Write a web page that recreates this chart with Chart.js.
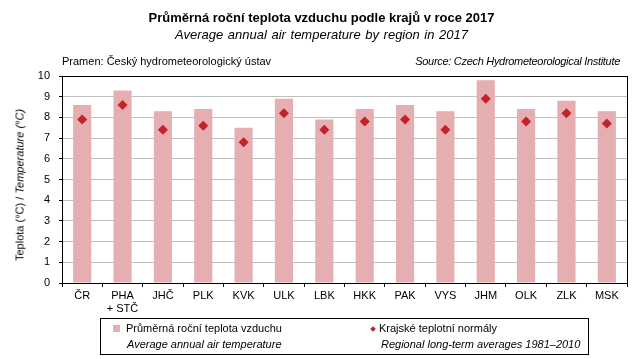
<!DOCTYPE html>
<html>
<head>
<meta charset="utf-8">
<script src="https://cdn.jsdelivr.net/npm/chart.js@4/dist/chart.umd.min.js"></script>
<style>
  html, body { margin: 0; padding: 0; background: #fff; }
  #wrap { position: relative; width: 643px; height: 359px; font-family: Arial, "Liberation Sans", sans-serif; color: #000; }
  #wrap canvas { position: absolute; left: 0; top: 0; }
  .t { position: absolute; white-space: nowrap; line-height: 1; }
  .title { left: 0; width: 643px; text-align: center; top: 11px; font-size: 13px; font-weight: bold; }
  .sub { left: 0; width: 643px; text-align: center; top: 28px; font-size: 13px; font-style: italic; word-spacing: 1px; }
  .src { top: 56px; font-size: 11px; }
  .ytitle { left: 20px; top: 185px; font-size: 11px; transform: translate(-50%, -50%) rotate(-90deg); }
  #legend { position: absolute; left: 100px; top: 318px; width: 487px; height: 35px; border: 1px solid #000; font-size: 11px; }
  .sw { position: absolute; width: 7px; height: 7px; background: #E5AEB1; }
  .dm { position: absolute; width: 4px; height: 4px; background: #C4212B; transform: rotate(45deg); }
</style>
</head>
<body>
<div id="wrap">
  <canvas id="c" width="643" height="359"></canvas>
  <div class="t title">Průměrná roční teplota vzduchu podle krajů v roce 2017</div>
  <div class="t sub">Average annual air temperature by region in 2017</div>
  <div class="t src" style="left:62px">Pramen: Český hydrometeorologický ústav</div>
  <div class="t src" style="right:23px;font-style:italic;letter-spacing:-0.3px">Source: Czech Hydrometeorological Institute</div>
  <div class="t ytitle">Teplota (°C) / <i>Temperature (°C)</i></div>
  <div id="legend">
    <div class="sw" style="left:12px;top:6px"></div>
    <div class="t" style="left:25px;top:4px">Průměrná roční teplota vzduchu</div>
    <div class="t" style="left:26px;top:20px;font-style:italic">Average annual air temperature</div>
    <div class="dm" style="left:270px;top:8px"></div>
    <div class="t" style="left:278px;top:4px">Krajské teplotní normály</div>
    <div class="t" style="left:280px;top:20px;font-style:italic">Regional long-term averages 1981–2010</div>
  </div>
</div>
<script>
const regions = ['ČR', ['PHA', '+ STČ'], 'JHČ', 'PLK', 'KVK', 'ULK', 'LBK', 'HKK', 'PAK', 'VYS', 'JHM', 'OLK', 'ZLK', 'MSK'];
const temp2017 = [8.6, 9.3, 8.3, 8.4, 7.5, 8.9, 7.9, 8.4, 8.6, 8.3, 9.8, 8.4, 8.8, 8.3];
const normals = [7.9, 8.6, 7.4, 7.6, 6.8, 8.2, 7.4, 7.8, 7.9, 7.4, 8.9, 7.8, 8.2, 7.7];
const yTicks = [0, 1, 2, 3, 4, 5, 6, 7, 8, 9, 10];

// rámeček kolem plochy grafu
const frame = {
  id: 'frame',
  afterDraw(chart) {
    const { ctx, chartArea: a } = chart;
    ctx.save();
    ctx.strokeStyle = '#000';
    ctx.lineWidth = 1;
    ctx.strokeRect(Math.round(a.left) + 0.5, Math.round(a.top) + 0.5, Math.round(a.right - a.left), Math.round(a.bottom - a.top));
    ctx.restore();
  },
};

const font = { family: 'Arial, "Liberation Sans", sans-serif', size: 11 };

new Chart(document.getElementById('c'), {
  data: {
    labels: regions,
    datasets: [
      { type: 'line', label: 'Krajské teplotní normály', data: normals, showLine: false, pointStyle: 'rectRot', pointRadius: 5, pointHoverRadius: 5, pointBackgroundColor: '#C4212B', pointBorderColor: '#C4212B', pointBorderWidth: 0 },
      { type: 'bar', label: 'Průměrná roční teplota vzduchu', data: temp2017, backgroundColor: '#E5AEB1', barPercentage: 0.45, categoryPercentage: 1 },
    ],
  },
  options: {
    responsive: false, animation: false,
    layout: { padding: { top: 76, right: 16, left: 0, bottom: 0 } },
    plugins: { legend: { display: false }, tooltip: { enabled: false } },
    scales: {
      x: {
        offset: true,
        grid: { offset: true, drawOnChartArea: false, tickLength: 4, color: '#000' },
        border: { color: '#000' },
        ticks: { color: '#000', font, padding: 2, maxRotation: 0, autoSkip: false },
        afterFit: (s) => { s.height = 76; },
      },
      y: {
        min: 0, max: 10,
        afterBuildTicks: (s) => { s.ticks = yTicks.map((v) => ({ value: v })); },
        grid: { color: '#BFBFBF', tickLength: 3, tickColor: '#000' },
        border: { color: '#000' },
        ticks: { color: '#000', font, padding: 9 },
        afterFit: (s) => { s.width = 62; },
      },
    },
  },
  plugins: [frame],
});
</script>
</body>
</html>
